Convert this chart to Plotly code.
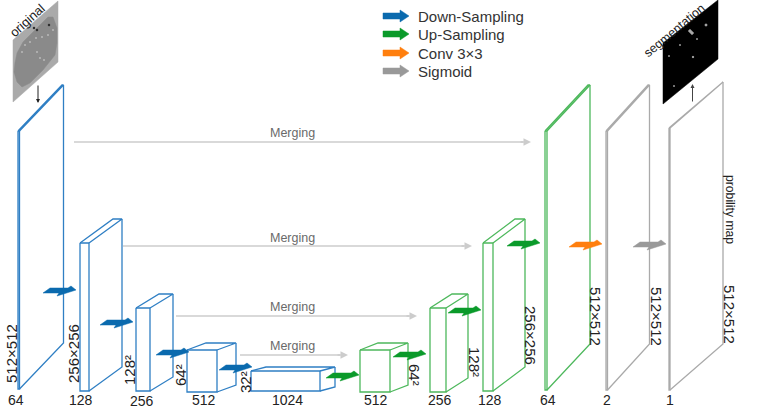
import plotly.graph_objects as go

# blocks of the network, left to right
block_left = [18, 80, 136, 187, 251, 360, 430, 483, 545, 606, 669]
block_right = [19.5, 89, 150, 217, 320, 390, 446, 493, 547, 607.5, 670]
block_top = [131, 243, 308, 350, 371, 350, 308, 243, 131, 131, 128]
block_bottom = [389, 391, 391, 392, 391, 392, 392, 391, 390, 390, 390]
block_dx = [44, 33, 23, 19, 15, 18, 22, 32, 43, 42, 53]
block_dy = [-46, -24, -14, -7, -4, -7, -14, -24, -46, -46, -46]
block_color = ["#2f7fc4"] * 5 + ["#4db85c"] * 4 + ["#aaaaaa"] * 2

channels = ["64", "128", "256", "512", "1024", "512", "256", "128", "64", "2", "1"]
channel_x = [16, 81, 142, 204, 287, 376, 440, 490, 548, 607, 670]
channel_y = [400, 400, 401, 400, 400, 400, 400, 400, 400, 400, 400]

size_labels = ["512×512", "256×256", "128²", "64²", "32²", "64²", "128²", "256×256",
               "512×512", "512×512", "512×512", "probility map"]
size_x = [11, 73, 129, 180, 245, 415, 475, 531, 596, 657, 730, 730]
size_y = [354, 354, 370, 375, 382, 375, 362, 335, 316, 316, 314, 209]
size_angle = [-90, -90, -90, -90, -90, 90, 90, 90, 90, 90, 90, 90]

# skip connections
merge_start = [74, 123, 176, 240]
merge_end = [531, 472, 417, 348]
merge_y = [142, 246, 316, 355]
merge_label_x = [292, 292, 292, 292]
merge_label_y = [133, 238, 307, 346]

# outline of the block arrows, relative to the tail
arrow_dx = [0, 7, 25, 28, 33, 20, 14, 16, 0]
arrow_dy = [0, -5, -5, -7, -3, 1, 3, 0, 0]
arrow_x = [43, 100, 156, 219, 326, 393, 448, 507, 569, 633]
arrow_y = [293, 325, 355, 370, 378, 357, 313, 246, 247, 247]
arrow_color = ["#0a6aae"] * 4 + ["#0a9a2a"] * 4 + ["#ff7f0e", "#999999"]

legend_names = ["Down-Sampling", "Up-Sampling", "Conv 3×3", "Sigmoid"]
legend_colors = ["#0a6aae", "#0a9a2a", "#ff7f0e", "#999999"]
legend_y = [16, 34, 53, 71]
legend_arrow_dx = [0, 17, 17, 26, 17, 17, 0, 0]
legend_arrow_dy = [-3, -3, -6, 0, 6, 3, 3, -3]

# input and output slices
original_x = [13, 58, 58, 13, 13]
original_y = [40, 1, 62, 102, 40]
disc_x = [15, 17, 23, 37, 48, 53, 57, 57, 55, 43, 30, 22, 17, 14, 15]
disc_y = [63, 53, 42, 28, 17, 17, 28, 43, 55, 70, 83, 87, 82, 72, 63]
bright_x = [25, 30, 36, 42, 48, 40, 22, 53, 37, 44]
bright_y = [45, 42, 38, 37, 35, 58, 52, 30, 52, 60]
spot_x = [37, 34, 49]
spot_y = [30, 28, 25]
segment_x = [663, 718, 718, 663, 663]
segment_y = [43, 0, 59, 104, 43]
seg_point_x = [690, 692, 706, 680, 697, 669, 693, 674]
seg_point_y = [31, 33, 25, 45, 39, 56, 57, 86]
seg_point_size = [2.5, 2.5, 2, 1, 1, 1, 1.5, 1]

fig = go.Figure()


def add_line(xs, ys, color, width=1.3, fill=None):
    fig.add_trace(go.Scatter(x=xs, y=ys, mode="lines", fill=fill, fillcolor=color if fill else None,
                             line=dict(color=color, width=width), hoverinfo="skip"))


add_line(original_x, original_y, "#aaaaaa", 0.5, "toself")
add_line(disc_x, disc_y, "#8a8a8a", 0.5, "toself")
fig.add_trace(go.Scatter(x=bright_x, y=bright_y, mode="markers", hoverinfo="skip",
                         marker=dict(size=2, color="#b8b8b8")))
fig.add_trace(go.Scatter(x=spot_x, y=spot_y, mode="markers", hoverinfo="skip",
                         marker=dict(size=2.5, color="#303030")))
add_line(segment_x, segment_y, "#000000", 0.5, "toself")
fig.add_trace(go.Scatter(x=seg_point_x, y=seg_point_y, mode="markers", hoverinfo="skip",
                         marker=dict(size=seg_point_size, color="#d8d8d8")))

for i in range(len(block_left)):
    l, r = block_left[i], block_right[i]
    t, b = block_top[i], block_bottom[i]
    dx, dy = block_dx[i], block_dy[i]
    xs = [l, r, r, l, l, None, l, l + dx, r + dx, r, None, r + dx, r + dx, r]
    ys = [t, t, b, b, t, None, t, t + dy, t + dy, t, None, t + dy, b + dy, b]
    add_line(xs, ys, block_color[i], 1.3)

for i in range(len(merge_y)):
    add_line([merge_start[i], merge_end[i] - 8], [merge_y[i], merge_y[i]], "#cccccc", 1.5)
    fig.add_annotation(x=merge_end[i], y=merge_y[i], ax=merge_end[i] - 12, ay=merge_y[i],
                       axref="x", ayref="y", text="", showarrow=True, arrowhead=2,
                       arrowsize=1, arrowwidth=1.5, arrowcolor="#cccccc")
    fig.add_annotation(x=merge_label_x[i], y=merge_label_y[i], text="Merging", showarrow=False,
                       font=dict(size=12.5, color="#6a6a6a"))

for x0, y0, color in zip(arrow_x, arrow_y, arrow_color):
    add_line([x0 + d for d in arrow_dx], [y0 + d for d in arrow_dy], color, 0.5, "toself")

for y0, name, color in zip(legend_y, legend_names, legend_colors):
    add_line([383 + d for d in legend_arrow_dx], [y0 + d for d in legend_arrow_dy], color, 0.5, "toself")
    fig.add_annotation(x=416, y=y0, text=name, showarrow=False, xanchor="left",
                       font=dict(size=15, color="#333333"))

for x0, y0, text in zip(channel_x, channel_y, channels):
    fig.add_annotation(x=x0, y=y0, text=text, showarrow=False, font=dict(size=14, color="#222222"))

for x0, y0, text, angle in zip(size_x, size_y, size_labels, size_angle):
    font_size = 12.2 if text == "probility map" else 15
    fig.add_annotation(x=x0, y=y0, text=text, textangle=angle, showarrow=False,
                       font=dict(size=font_size, color="#222222"))

fig.add_annotation(x=27, y=20, text="original", textangle=-42, showarrow=False,
                   font=dict(size=13, color="#222222"))
fig.add_annotation(x=674, y=31, text="segmentation", textangle=-40, showarrow=False,
                   font=dict(size=12.5, color="#222222"))

# small arrows between slices and first and last block
fig.add_annotation(x=38, y=103, ax=38, ay=84, axref="x", ayref="y", text="", showarrow=True,
                   arrowhead=2, arrowsize=0.8, arrowwidth=1, arrowcolor="#222222")
fig.add_annotation(x=692.5, y=84, ax=692.5, ay=103, axref="x", ayref="y", text="", showarrow=True,
                   arrowhead=2, arrowsize=0.8, arrowwidth=1, arrowcolor="#444444")

fig.update_xaxes(range=[0, 764], visible=False, fixedrange=True)
fig.update_yaxes(range=[420, 0], visible=False, fixedrange=True)
fig.update_layout(
    width=764, height=420,
    margin=dict(l=0, r=0, t=0, b=0),
    showlegend=False,
    paper_bgcolor="white", plot_bgcolor="white",
    font=dict(family="Liberation Sans"),
)

fig.write_html("out.html", config=dict(displayModeBar=False),
               post_script="document.body.style.margin='0';document.body.style.overflow='hidden';")
